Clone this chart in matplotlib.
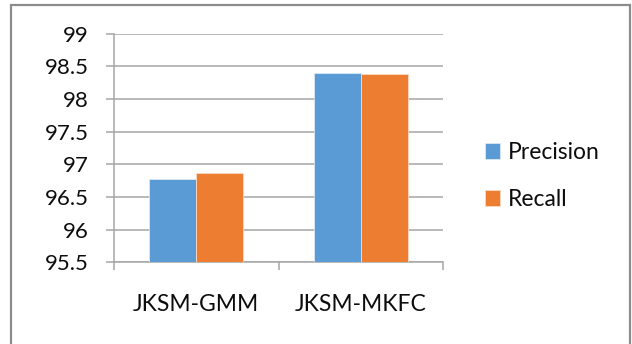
import matplotlib
matplotlib.use("Agg")
import matplotlib.pyplot as plt
from matplotlib.patches import Rectangle
import numpy as np

categories = ["JKSM-GMM", "JKSM-MKFC"]
series_names = ["Precision", "Recall"]
precision = [96.77, 98.40]
recall = [96.87, 98.39]
yticks = [95.5, 96, 96.5, 97, 97.5, 98, 98.5, 99]
ytick_labels = ["95.5", "96", "96.5", "97", "97.5", "98", "98.5", "99"]

plt.rcParams['font.family'] = ['Lato', 'DejaVu Sans']

W, H = 632, 344
fig = plt.figure(figsize=(W / 100, H / 100), dpi=100)
fig.patch.set_facecolor("white")

left, right, top, bottom = 114, 443, 33.7, 262.3
ax = fig.add_axes([left / W, 1 - bottom / H, (right - left) / W, (bottom - top) / H])

grid_c = "#A6A6A6"
txt_c = "#0d0d0d"
x = np.arange(len(categories)) + 0.5
w = 0.285
ax.bar(x - w / 2, precision, w, bottom=0, color="#5B9BD5", edgecolor="#DDE8F3",
       linewidth=0.6, label=series_names[0], zorder=3)
ax.bar(x + w / 2, recall, w, bottom=0, color="#ED7D31", edgecolor="#F8D9C4",
       linewidth=0.6, label=series_names[1], zorder=3)

ax.set_xlim(0, len(categories))
ax.set_ylim(95.5, 99)
ax.set_yticks(yticks)
ax.set_yticklabels(ytick_labels)
ax.yaxis.grid(True, color=grid_c, linewidth=1.1, zorder=0)
ax.set_axisbelow(True)

ax.set_xticks(np.arange(len(categories) + 1))
ax.set_xticklabels([""] * (len(categories) + 1))
ax.set_xticks(x, minor=True)
ax.set_xticklabels(categories, minor=True, fontsize=16.5, color=txt_c)
ax.tick_params(axis="x", which="major", length=6, color=grid_c, width=1.1, direction="out")
ax.tick_params(axis="x", which="minor", length=0, pad=23)
ax.tick_params(axis="y", length=6, color=grid_c, width=1.1, labelsize=16,
               labelcolor=txt_c, pad=12)

for s in ["top", "right"]:
    ax.spines[s].set_visible(False)
for s in ["left", "bottom"]:
    ax.spines[s].set_color(grid_c)
    ax.spines[s].set_linewidth(1.1)

leg = fig.legend(loc="center left", bbox_to_anchor=(485 / W, 1 - 176 / H),
                 frameon=False, fontsize=16.5, handlelength=0.66, handleheight=0.66,
                 handletextpad=0.35, labelspacing=1.15, borderpad=0, borderaxespad=0)
for t in leg.get_texts():
    t.set_color(txt_c)

frame = Rectangle((11 / W, -0.1), (630 - 11) / W, (1 - 4.5 / H) + 0.1,
                  transform=fig.transFigure, fill=False, edgecolor="#8C8C8C",
                  linewidth=1.6, clip_on=False)
fig.patches.append(frame)

fig.savefig("out.png", dpi=100, facecolor="white")
